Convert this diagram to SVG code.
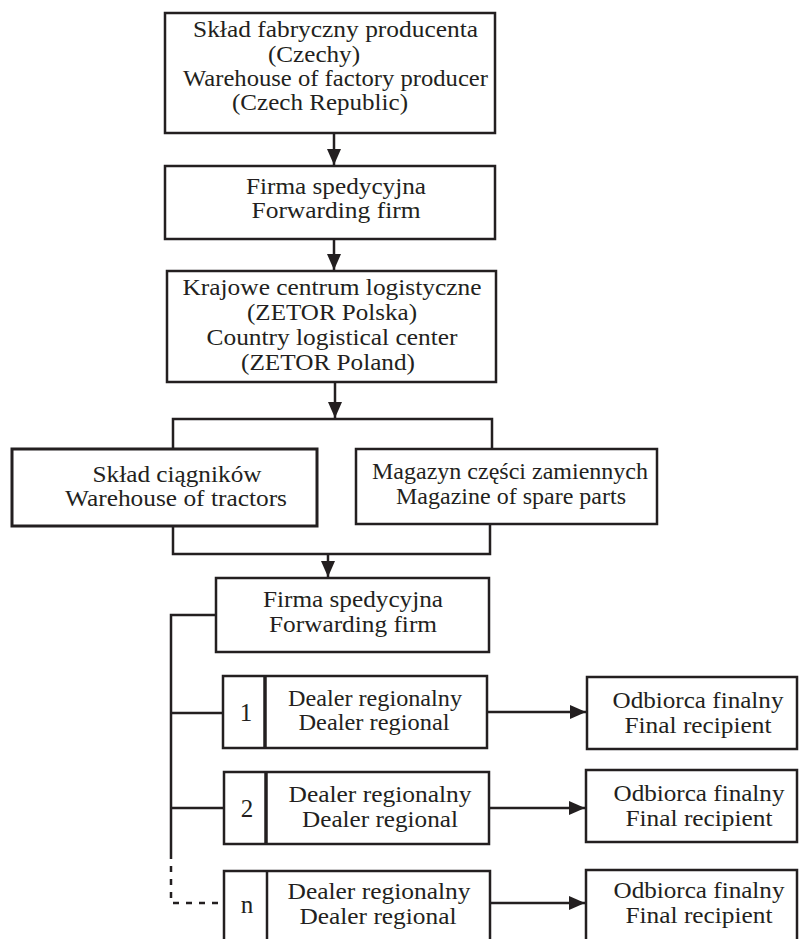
<svg xmlns="http://www.w3.org/2000/svg" width="800" height="939" viewBox="0 0 800 939">
<style>
.box{fill:#fff;stroke:#231f20;stroke-width:2.5}
.ln{fill:none;stroke:#231f20;stroke-width:2.5}
.dash{fill:none;stroke:#231f20;stroke-width:2.5;stroke-dasharray:6 7}
text{font-family:"Liberation Serif","Times New Roman",serif;font-size:23px;fill:#231f20;text-anchor:middle}
.num{font-size:25px}
</style>
<defs>
<marker id="ah" markerUnits="userSpaceOnUse" markerWidth="17" markerHeight="15" refX="16" refY="7" orient="auto">
<path d="M0,0 L16,7 L0,14 z" fill="#231f20"/>
</marker>
</defs>
<rect width="800" height="939" fill="#fff"/>
<g id="connectors">
<line class="ln" x1="334" y1="134" x2="334" y2="165" marker-end="url(#ah)"/>
<line class="ln" x1="334" y1="240" x2="334" y2="270" marker-end="url(#ah)"/>
<line class="ln" x1="335" y1="383" x2="335" y2="418" marker-end="url(#ah)"/>
<path class="ln" d="M173,449 V419 H492 V449"/>
<path class="ln" d="M173,526 V554 H490 V524"/>
<line class="ln" x1="328" y1="554" x2="328" y2="577" marker-end="url(#ah)"/>
<path class="ln" d="M216,615 H171 V853"/>
<line class="ln" x1="171" y1="713" x2="223" y2="713"/>
<line class="ln" x1="171" y1="808" x2="224" y2="808"/>
<path class="dash" d="M171,853 V903 H224"/>
<line class="ln" x1="487" y1="712" x2="586" y2="712" marker-end="url(#ah)"/>
<line class="ln" x1="489" y1="808" x2="585" y2="808" marker-end="url(#ah)"/>
<line class="ln" x1="490" y1="903" x2="585" y2="903" marker-end="url(#ah)"/>
</g>
<g id="n1">
<rect class="box" x="165" y="13" width="330" height="120"/>
<text x="335.5" y="37" textLength="285" lengthAdjust="spacingAndGlyphs">Skład fabryczny producenta</text>
<text x="314" y="62" textLength="92" lengthAdjust="spacingAndGlyphs">(Czechy)</text>
<text x="335.5" y="86" textLength="305" lengthAdjust="spacingAndGlyphs">Warehouse of factory producer</text>
<text x="320" y="110" textLength="176" lengthAdjust="spacingAndGlyphs">(Czech Republic)</text>
</g>
<g id="n2">
<rect class="box" x="165" y="166" width="330" height="73"/>
<text x="336" y="194" textLength="180" lengthAdjust="spacingAndGlyphs">Firma spedycyjna</text>
<text x="336" y="218" textLength="169" lengthAdjust="spacingAndGlyphs">Forwarding firm</text>
</g>
<g id="n3">
<rect class="box" x="167" y="271" width="329" height="111"/>
<text x="332" y="295" textLength="299" lengthAdjust="spacingAndGlyphs">Krajowe centrum logistyczne</text>
<text x="332" y="320" textLength="170" lengthAdjust="spacingAndGlyphs">(ZETOR Polska)</text>
<text x="332" y="345" textLength="251" lengthAdjust="spacingAndGlyphs">Country logistical center</text>
<text x="328" y="370" textLength="174" lengthAdjust="spacingAndGlyphs">(ZETOR Poland)</text>
</g>
<g id="n4">
<rect class="box" x="12" y="449" width="305" height="77" style="stroke-width:3"/>
<text x="177" y="482" textLength="169" lengthAdjust="spacingAndGlyphs">Skład ciągników</text>
<text x="176" y="506" textLength="222" lengthAdjust="spacingAndGlyphs">Warehouse of tractors</text>
</g>
<g id="n5">
<rect class="box" x="356" y="449" width="301" height="75"/>
<text x="510" y="479" textLength="276" lengthAdjust="spacingAndGlyphs">Magazyn części zamiennych</text>
<text x="511" y="504" textLength="230" lengthAdjust="spacingAndGlyphs">Magazine of spare parts</text>
</g>
<g id="n6">
<rect class="box" x="216" y="578" width="273" height="74"/>
<text x="353" y="607" textLength="180" lengthAdjust="spacingAndGlyphs">Firma spedycyjna</text>
<text x="353" y="632" textLength="168" lengthAdjust="spacingAndGlyphs">Forwarding firm</text>
</g>
<g id="d1">
<rect class="box" x="223" y="676" width="264" height="72"/>
<line class="ln" x1="265" y1="676" x2="265" y2="748" style="stroke-width:3.5"/>
<text class="num" x="246" y="721">1</text>
<text x="375" y="706" textLength="174" lengthAdjust="spacingAndGlyphs">Dealer regionalny</text>
<text x="374" y="730" textLength="151" lengthAdjust="spacingAndGlyphs">Dealer regional</text>
</g>
<g id="d2">
<rect class="box" x="224" y="772" width="265" height="72"/>
<line class="ln" x1="266" y1="772" x2="266" y2="844" style="stroke-width:3.5"/>
<text class="num" x="247" y="817">2</text>
<text x="380" y="802" textLength="183" lengthAdjust="spacingAndGlyphs">Dealer regionalny</text>
<text x="380" y="827" textLength="156" lengthAdjust="spacingAndGlyphs">Dealer regional</text>
</g>
<g id="dn">
<rect class="box" x="224" y="871" width="266" height="80"/>
<line class="ln" x1="267" y1="871" x2="267" y2="945" style="stroke-width:2.5"/>
<text class="num" x="247" y="913">n</text>
<text x="379" y="899" textLength="183" lengthAdjust="spacingAndGlyphs">Dealer regionalny</text>
<text x="378" y="924" textLength="157" lengthAdjust="spacingAndGlyphs">Dealer regional</text>
</g>
<g id="r1">
<rect class="box" x="587" y="677" width="210" height="72"/>
<text x="698" y="708" textLength="171" lengthAdjust="spacingAndGlyphs">Odbiorca finalny</text>
<text x="698" y="733" textLength="147" lengthAdjust="spacingAndGlyphs">Final recipient</text>
</g>
<g id="r2">
<rect class="box" x="586" y="770" width="211" height="72"/>
<text x="699" y="801" textLength="171" lengthAdjust="spacingAndGlyphs">Odbiorca finalny</text>
<text x="699" y="826" textLength="147" lengthAdjust="spacingAndGlyphs">Final recipient</text>
</g>
<g id="rn">
<rect class="box" x="586" y="870" width="211" height="80"/>
<text x="699" y="898" textLength="171" lengthAdjust="spacingAndGlyphs">Odbiorca finalny</text>
<text x="699" y="923" textLength="147" lengthAdjust="spacingAndGlyphs">Final recipient</text>
</g>
</svg>
